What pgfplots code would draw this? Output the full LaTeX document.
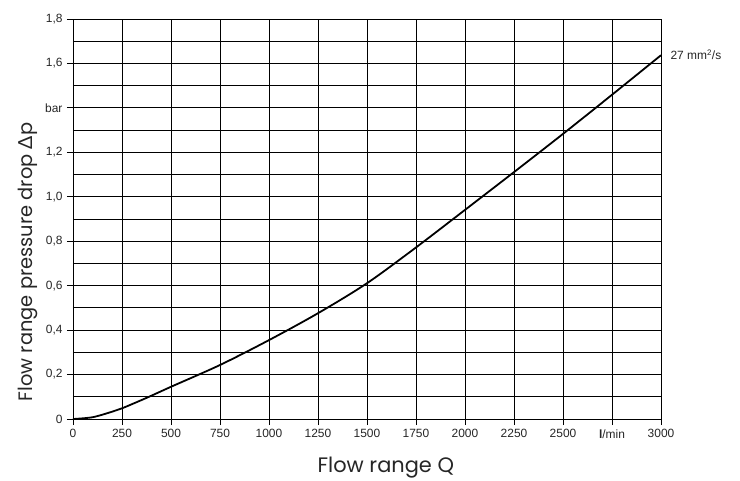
\documentclass[border=0pt]{standalone}
\usepackage{fontspec}
\setmainfont{Liberation Sans}
\newfontfamily\labelfont{Poppins}
\newfontfamily\deltafont{Lato}
\usepackage{pgfplots}
\pgfplotsset{compat=1.18}
\begin{document}
\begin{tikzpicture}
\begin{axis}[
  scale only axis,
  width=588bp, height=400bp,
  xmin=0, xmax=3000, ymin=0, ymax=1.8,
  xtick={0,250,...,3000},
  xticklabels={0,250,500,750,1000,1250,1500,1750,2000,2250,2500,{\textbf{l}/min},3000},
  ytick={0,0.2,...,1.8},
  yticklabels={0,{0,2},{0,4},{0,6},{0,8},{1,0},{1,2},bar,{1,6},{1,8}},
  minor y tick num=1,
  minor tick length=0pt,
  major tick length=6bp,
  tick align=outside,
  xtick pos=bottom, ytick pos=left,
  grid=both,
  major grid style={black, line width=0.9pt},
  minor grid style={black, line width=0.9pt},
  axis line style={black, line width=0.9pt},
  every tick/.style={black, line width=0.9pt},
  tick label style={font=\fontsize{12}{14}\selectfont, text=black!85},
  xticklabel style={yshift=-1bp},
  yticklabel style={xshift=-1bp},
  clip=false,
]
\addplot[black, line width=1.8pt, smooth, tension=0.5] coordinates {
 (0,0) (100,0.008) (200,0.033) (250,0.048) (375,0.095) (500,0.145)
 (750,0.243) (1000,0.355) (1250,0.476) (1500,0.611) (1750,0.772)
 (2000,0.941) (2250,1.111) (2500,1.283) (2750,1.459) (3000,1.637)
};
\node[anchor=west, font=\fontsize{12}{14}\selectfont, text=black!85] at (axis cs:3000,1.64) {\hspace{6bp}27 mm$^{\mathrm{2}}$/s};
\node[anchor=base, font=\labelfont\fontsize{21}{24}\selectfont, text=black!85] at (rel axis cs:0.532,0) [yshift=-53bp] {Flow range Q};
\node[anchor=base, rotate=90, font=\labelfont\fontsize{19.5}{22}\selectfont, text=black!85] at (rel axis cs:-0.0697,0.3925) {Flow range pressure drop {\deltafont Δ}p};
\path (rel axis cs:0,0) ++(-73bp,-60bp) coordinate (bl);
\path (rel axis cs:0,0) ++(667bp,419bp) coordinate (tr);
\end{axis}
\path (bl) rectangle (tr);
\end{tikzpicture}
\end{document}
